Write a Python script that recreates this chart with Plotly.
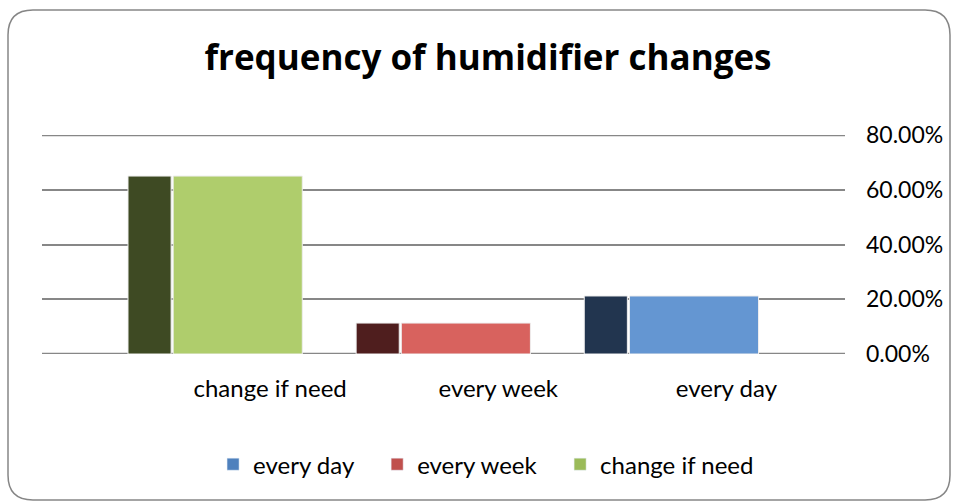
import plotly.graph_objects as go

# data
categories = ["change if need", "every week", "every day"]
values = [0.65, 0.113, 0.212]
legend_order = ["every day", "every week", "change if need"]
tick_vals = [0, 0.2, 0.4, 0.6, 0.8]
tick_text = ["0.00%", "20.00%", "40.00%", "60.00%", "80.00%"]

face_colors = {"change if need": "#AFCD6C", "every week": "#D8625E", "every day": "#6496D2"}
side_colors = {"change if need": "#3E4A23", "every week": "#4F1E1E", "every day": "#22354F"}
legend_colors = {"every day": "#4F81BD", "every week": "#C0504D", "change if need": "#9BBB59"}

FONT = "Lato"
GRID = "#878787"

fig = go.Figure()

# dark side of each 3D-looking bar
for cat, val in zip(categories, values):
    fig.add_trace(go.Bar(
        x=[cat], y=[val], width=0.189, offset=-0.623,
        marker=dict(color=side_colors[cat], line=dict(color="#EEEEEE", width=1)),
        showlegend=False, hoverinfo="skip",
    ))

# front face
for cat, val in zip(categories, values):
    fig.add_trace(go.Bar(
        x=[cat], y=[val], width=0.566, offset=-0.425, name=cat,
        marker=dict(color=face_colors[cat], line=dict(color="#EEEEEE", width=1)),
        showlegend=False,
    ))

# legend entries (non-breaking spaces widen the gap between items)
for i, name in enumerate(legend_order):
    pad = "\u00a0\u00a0\u00a0" if i < len(legend_order) - 1 else ""
    fig.add_trace(go.Bar(x=[categories[0]], y=[None], name=name + pad,
                         marker=dict(color=legend_colors[name])))

fig.update_layout(
    width=955, height=502,
    margin=dict(l=42, r=110, t=135, b=148),
    paper_bgcolor="white", plot_bgcolor="white",
    barmode="overlay",
    font=dict(family=FONT, size=24, color="#000000"),
    title=dict(text="<b>frequency of humidifier changes</b>", x=0.511, xanchor="center",
               y=0.885, yanchor="middle",
               font=dict(family="Open Sans", size=35, color="#000000")),
    xaxis=dict(type="category", categoryorder="array", categoryarray=categories,
               range=[-1.0, 2.52], showgrid=False, showline=False, zeroline=False,
               ticks="", ticklabelstandoff=18, tickfont=dict(size=24)),
    yaxis=dict(side="right", range=[0, 0.8], tickvals=tick_vals, ticktext=tick_text,
               showgrid=True, gridcolor=GRID, gridwidth=2, zeroline=False,
               showline=False, ticks="", ticklabelstandoff=20, tickfont=dict(size=23)),
    legend=dict(orientation="h", x=0.553, xanchor="center", y=-0.505, yanchor="middle",
                font=dict(size=24), itemwidth=30, traceorder="normal"),
    showlegend=True,
)

# grid lines at the range ends (plotly leaves these out)
for v in (tick_vals[0], tick_vals[-1]):
    fig.add_shape(type="line", xref="paper", yref="y", x0=0, x1=1, y0=v, y1=v,
                  line=dict(color=GRID, width=2.5), layer="below")

# rounded chart-area border
x0, y0, x1, y1, r = 8, 10, 950, 500, 25
W, H = 955 - 42 - 110, 502 - 135 - 148
def px(x):
    return (x - 42) / W
def py(y):
    return (502 - 148 - y) / H
path = (f"M {px(x0 + r)},{py(y0)} L {px(x1 - r)},{py(y0)} "
        f"Q {px(x1)},{py(y0)} {px(x1)},{py(y0 + r)} L {px(x1)},{py(y1 - r)} "
        f"Q {px(x1)},{py(y1)} {px(x1 - r)},{py(y1)} L {px(x0 + r)},{py(y1)} "
        f"Q {px(x0)},{py(y1)} {px(x0)},{py(y1 - r)} L {px(x0)},{py(y0 + r)} "
        f"Q {px(x0)},{py(y0)} {px(x0 + r)},{py(y0)} Z")
fig.add_shape(type="path", path=path, xref="paper", yref="paper",
              line=dict(color="#868686", width=1.5), layer="below")

fig.write_html("out.html", config={"displayModeBar": False},
               post_script="document.body.style.margin='0';")
